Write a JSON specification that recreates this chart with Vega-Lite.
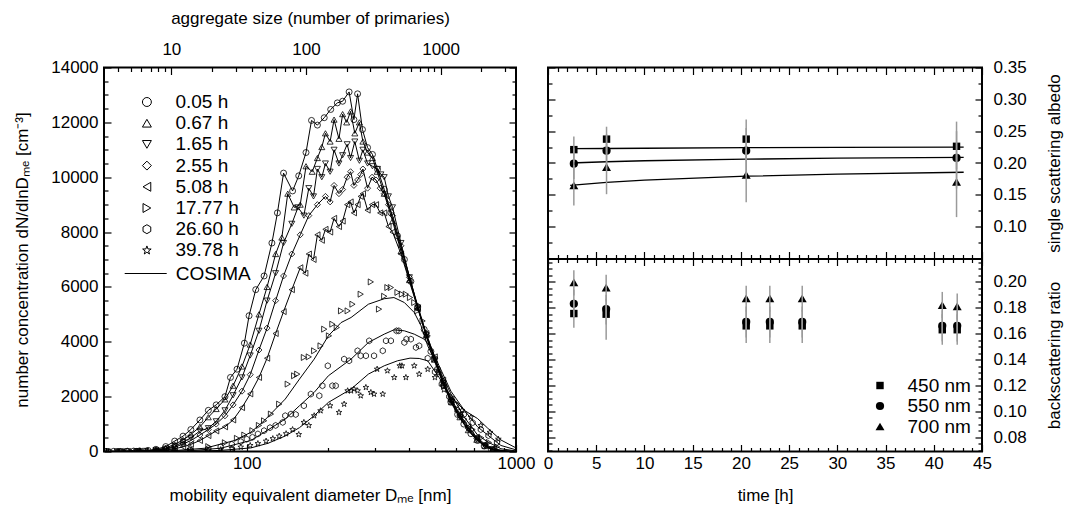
{
"$schema": "https://vega.github.io/schema/vega-lite/v6.json",
"background": "white",
"padding": {"left": 12, "top": 8.5, "right": 0, "bottom": 0},
"bounds": "flush",
"spacing": 32,
"config": {
  "font": "Liberation Sans",
  "view": {"stroke": "black", "strokeWidth": 2},
  "axis": {"grid": false, "domain": false, "tickColor": "black", "tickWidth": 1.2, "labelFont": "Liberation Sans", "labelFontSize": 17, "labelColor": "black", "titleFont": "Liberation Sans", "titleFontSize": 17, "titleFontWeight": "normal", "titleColor": "black"},
  "legend": {"labelFont": "Liberation Sans", "labelFontSize": 19, "labelColor": "black", "padding": 0}
},
"datasets": {
  "prim": [{"n": 3.16}, {"n": 3630}],
  "alb": [
    {"t":2.68,"w":"450 nm","v":0.221,"lo":0.201,"hi":0.2416},
    {"t":2.68,"w":"550 nm","v":0.199,"lo":0.175,"hi":0.223},
    {"t":2.68,"w":"700 nm","v":0.165,"lo":0.1333,"hi":0.197},
    {"t":6.07,"w":"450 nm","v":0.2375,"lo":0.215,"hi":0.257},
    {"t":6.07,"w":"550 nm","v":0.2194,"lo":0.19,"hi":0.245},
    {"t":6.07,"w":"700 nm","v":0.1936,"lo":0.151,"hi":0.23},
    {"t":20.55,"w":"450 nm","v":0.2375,"lo":0.205,"hi":0.2684},
    {"t":20.55,"w":"550 nm","v":0.2194,"lo":0.18,"hi":0.255},
    {"t":20.55,"w":"700 nm","v":0.1813,"lo":0.1384,"hi":0.22},
    {"t":42.36,"w":"450 nm","v":0.2262,"lo":0.19,"hi":0.265},
    {"t":42.36,"w":"550 nm","v":0.208,"lo":0.16,"hi":0.25},
    {"t":42.36,"w":"700 nm","v":0.1704,"lo":0.115,"hi":0.215}
  ],
  "albfit": [
    {"t":2.3,"w":"450 nm","v":0.2225},{"t":6.07,"w":"450 nm","v":0.2228},{"t":10,"w":"450 nm","v":0.2232},{"t":20.55,"w":"450 nm","v":0.224},{"t":30,"w":"450 nm","v":0.2245},{"t":43.1,"w":"450 nm","v":0.225},
    {"t":2.3,"w":"550 nm","v":0.2},{"t":6.07,"w":"550 nm","v":0.202},{"t":10,"w":"550 nm","v":0.2035},{"t":20.55,"w":"550 nm","v":0.206},{"t":30,"w":"550 nm","v":0.2075},{"t":43.1,"w":"550 nm","v":0.2087},
    {"t":2.3,"w":"700 nm","v":0.165},{"t":6.07,"w":"700 nm","v":0.1696},{"t":10,"w":"700 nm","v":0.173},{"t":20.55,"w":"700 nm","v":0.1793},{"t":30,"w":"700 nm","v":0.1825},{"t":43.1,"w":"700 nm","v":0.1855}
  ],
  "bsr": [
    {"t":2.68,"w":"450 nm","v":0.1755,"lo":0.1645,"hi":0.1865},
    {"t":2.68,"w":"550 nm","v":0.183,"lo":0.172,"hi":0.194},
    {"t":2.68,"w":"700 nm","v":0.1995,"lo":0.1895,"hi":0.209},
    {"t":6.03,"w":"450 nm","v":0.175,"lo":0.1553,"hi":0.187},
    {"t":6.03,"w":"550 nm","v":0.179,"lo":0.167,"hi":0.19},
    {"t":6.03,"w":"700 nm","v":0.1956,"lo":0.185,"hi":0.2054},
    {"t":20.55,"w":"450 nm","v":0.166,"lo":0.1528,"hi":0.178},
    {"t":20.55,"w":"550 nm","v":0.169,"lo":0.157,"hi":0.181},
    {"t":20.55,"w":"700 nm","v":0.1873,"lo":0.177,"hi":0.197},
    {"t":23.0,"w":"450 nm","v":0.166,"lo":0.1528,"hi":0.178},
    {"t":23.0,"w":"550 nm","v":0.169,"lo":0.157,"hi":0.181},
    {"t":23.0,"w":"700 nm","v":0.1873,"lo":0.177,"hi":0.197},
    {"t":26.36,"w":"450 nm","v":0.166,"lo":0.1528,"hi":0.178},
    {"t":26.36,"w":"550 nm","v":0.169,"lo":0.157,"hi":0.181},
    {"t":26.36,"w":"700 nm","v":0.1873,"lo":0.177,"hi":0.197},
    {"t":40.88,"w":"450 nm","v":0.163,"lo":0.1514,"hi":0.175},
    {"t":40.88,"w":"550 nm","v":0.166,"lo":0.154,"hi":0.178},
    {"t":40.88,"w":"700 nm","v":0.182,"lo":0.172,"hi":0.1922},
    {"t":42.43,"w":"450 nm","v":0.163,"lo":0.1514,"hi":0.175},
    {"t":42.43,"w":"550 nm","v":0.166,"lo":0.154,"hi":0.178},
    {"t":42.43,"w":"700 nm","v":0.181,"lo":0.171,"hi":0.191}
  ],
  "dist": [
    {"s":"0.05 h","D":29.5,"N":0,"meas":0,"model":1},
    {"s":"0.05 h","D":30,"N":0,"meas":1,"model":1},{"s":"0.05 h","D":32,"N":5,"meas":1,"model":1},{"s":"0.05 h","D":34,"N":0,"meas":1,"model":1},{"s":"0.05 h","D":36,"N":10,"meas":1,"model":1},{"s":"0.05 h","D":38,"N":15,"meas":1,"model":1},{"s":"0.05 h","D":40,"N":20,"meas":1,"model":1},{"s":"0.05 h","D":43,"N":40,"meas":1,"model":1},{"s":"0.05 h","D":46,"N":80,"meas":1,"model":1},{"s":"0.05 h","D":50,"N":180,"meas":1,"model":1},{"s":"0.05 h","D":54,"N":380,"meas":1,"model":1},{"s":"0.05 h","D":58,"N":560,"meas":1,"model":1},{"s":"0.05 h","D":62,"N":800,"meas":1,"model":1},{"s":"0.05 h","D":67,"N":1150,"meas":1,"model":1},{"s":"0.05 h","D":72,"N":1500,"meas":1,"model":1},{"s":"0.05 h","D":77,"N":1700,"meas":1,"model":1},{"s":"0.05 h","D":83,"N":2000,"meas":1,"model":1},{"s":"0.05 h","D":87,"N":2700,"meas":1,"model":1},{"s":"0.05 h","D":92,"N":3000,"meas":1,"model":1},{"s":"0.05 h","D":98,"N":3950,"meas":1,"model":1},{"s":"0.05 h","D":102,"N":4950,"meas":1,"model":1},{"s":"0.05 h","D":108,"N":5900,"meas":1,"model":1},{"s":"0.05 h","D":116,"N":6400,"meas":1,"model":1},{"s":"0.05 h","D":124,"N":7600,"meas":1,"model":1},{"s":"0.05 h","D":130,"N":8700,"meas":1,"model":1},{"s":"0.05 h","D":137,"N":10150,"meas":1,"model":1},{"s":"0.05 h","D":148,"N":9500,"meas":1,"model":1},{"s":"0.05 h","D":156,"N":10050,"meas":1,"model":1},{"s":"0.05 h","D":166,"N":10900,"meas":1,"model":1},{"s":"0.05 h","D":174,"N":12070,"meas":1,"model":1},{"s":"0.05 h","D":183,"N":11900,"meas":1,"model":1},{"s":"0.05 h","D":194,"N":12170,"meas":1,"model":1},{"s":"0.05 h","D":205,"N":12470,"meas":1,"model":1},{"s":"0.05 h","D":217,"N":12710,"meas":1,"model":1},{"s":"0.05 h","D":227,"N":12770,"meas":1,"model":1},{"s":"0.05 h","D":240,"N":13110,"meas":1,"model":1},{"s":"0.05 h","D":250,"N":12100,"meas":1,"model":1},{"s":"0.05 h","D":258,"N":13040,"meas":1,"model":1},{"s":"0.05 h","D":269,"N":11740,"meas":1,"model":1},{"s":"0.05 h","D":281,"N":11080,"meas":1,"model":1},{"s":"0.05 h","D":293,"N":10830,"meas":1,"model":1},{"s":"0.05 h","D":306,"N":10290,"meas":1,"model":1},{"s":"0.05 h","D":324,"N":9560,"meas":1,"model":1},{"s":"0.05 h","D":343,"N":8710,"meas":1,"model":1},{"s":"0.05 h","D":363,"N":7860,"meas":1,"model":1},{"s":"0.05 h","D":385,"N":7000,"meas":1,"model":1},{"s":"0.05 h","D":407,"N":6200,"meas":1,"model":1},{"s":"0.05 h","D":431,"N":5250,"meas":1,"model":1},{"s":"0.05 h","D":456,"N":4450,"meas":1,"model":1},{"s":"0.05 h","D":483,"N":3650,"meas":1,"model":1},{"s":"0.05 h","D":511,"N":3000,"meas":1,"model":1},{"s":"0.05 h","D":540,"N":2400,"meas":1,"model":1},{"s":"0.05 h","D":573,"N":1800,"meas":1,"model":1},{"s":"0.05 h","D":607,"N":1350,"meas":1,"model":1},{"s":"0.05 h","D":640,"N":1000,"meas":1,"model":1},{"s":"0.05 h","D":680,"N":650,"meas":1,"model":1},{"s":"0.05 h","D":720,"N":400,"meas":1,"model":1},{"s":"0.05 h","D":762,"N":200,"meas":1,"model":1},{"s":"0.05 h","D":810,"N":80,"meas":1,"model":1},
    {"s":"0.05 h","D":860,"N":20,"meas":0,"model":1},{"s":"0.05 h","D":920,"N":0,"meas":0,"model":1},{"s":"0.05 h","D":1000,"N":0,"meas":0,"model":1},

    {"s":"0.67 h","D":29.5,"N":0,"meas":0,"model":1},
    {"s":"0.67 h","D":31,"N":0,"meas":1,"model":1},{"s":"0.67 h","D":33,"N":0,"meas":1,"model":1},{"s":"0.67 h","D":35,"N":5,"meas":1,"model":1},{"s":"0.67 h","D":37,"N":10,"meas":1,"model":1},{"s":"0.67 h","D":40,"N":15,"meas":1,"model":1},{"s":"0.67 h","D":43,"N":25,"meas":1,"model":1},{"s":"0.67 h","D":46,"N":60,"meas":1,"model":1},{"s":"0.67 h","D":50,"N":130,"meas":1,"model":1},{"s":"0.67 h","D":54,"N":260,"meas":1,"model":1},{"s":"0.67 h","D":58,"N":420,"meas":1,"model":1},{"s":"0.67 h","D":62,"N":620,"meas":1,"model":1},{"s":"0.67 h","D":67,"N":900,"meas":1,"model":1},{"s":"0.67 h","D":72,"N":1250,"meas":1,"model":1},{"s":"0.67 h","D":77,"N":1550,"meas":1,"model":1},{"s":"0.67 h","D":83,"N":1900,"meas":1,"model":1},{"s":"0.67 h","D":89,"N":2400,"meas":1,"model":1},{"s":"0.67 h","D":96,"N":3100,"meas":1,"model":1},{"s":"0.67 h","D":103,"N":3900,"meas":1,"model":1},{"s":"0.67 h","D":111,"N":5000,"meas":1,"model":1},{"s":"0.67 h","D":119,"N":6000,"meas":1,"model":1},{"s":"0.67 h","D":128,"N":7200,"meas":1,"model":1},{"s":"0.67 h","D":135,"N":7800,"meas":1,"model":1},{"s":"0.67 h","D":142,"N":9400,"meas":1,"model":1},{"s":"0.67 h","D":150,"N":8900,"meas":1,"model":1},{"s":"0.67 h","D":158,"N":9000,"meas":1,"model":1},{"s":"0.67 h","D":166,"N":10400,"meas":1,"model":1},{"s":"0.67 h","D":175,"N":10200,"meas":1,"model":1},{"s":"0.67 h","D":183,"N":10700,"meas":1,"model":1},{"s":"0.67 h","D":190,"N":11100,"meas":1,"model":1},{"s":"0.67 h","D":196,"N":11600,"meas":1,"model":1},{"s":"0.67 h","D":204,"N":11300,"meas":1,"model":1},{"s":"0.67 h","D":211,"N":12100,"meas":1,"model":1},{"s":"0.67 h","D":220,"N":11400,"meas":1,"model":1},{"s":"0.67 h","D":227,"N":12300,"meas":1,"model":1},{"s":"0.67 h","D":235,"N":12000,"meas":1,"model":1},{"s":"0.67 h","D":243,"N":12400,"meas":1,"model":1},{"s":"0.67 h","D":252,"N":11600,"meas":1,"model":1},{"s":"0.67 h","D":262,"N":12000,"meas":1,"model":1},{"s":"0.67 h","D":270,"N":11300,"meas":1,"model":1},{"s":"0.67 h","D":281,"N":10900,"meas":1,"model":1},{"s":"0.67 h","D":293,"N":10700,"meas":1,"model":1},{"s":"0.67 h","D":305,"N":10200,"meas":1,"model":1},{"s":"0.67 h","D":324,"N":9400,"meas":1,"model":1},{"s":"0.67 h","D":348,"N":8400,"meas":1,"model":1},{"s":"0.67 h","D":374,"N":7300,"meas":1,"model":1},{"s":"0.67 h","D":402,"N":6250,"meas":1,"model":1},{"s":"0.67 h","D":432,"N":5250,"meas":1,"model":1},{"s":"0.67 h","D":464,"N":4250,"meas":1,"model":1},{"s":"0.67 h","D":499,"N":3350,"meas":1,"model":1},{"s":"0.67 h","D":536,"N":2500,"meas":1,"model":1},{"s":"0.67 h","D":576,"N":1800,"meas":1,"model":1},{"s":"0.67 h","D":619,"N":1250,"meas":1,"model":1},{"s":"0.67 h","D":665,"N":780,"meas":1,"model":1},{"s":"0.67 h","D":715,"N":430,"meas":1,"model":1},{"s":"0.67 h","D":768,"N":200,"meas":1,"model":1},{"s":"0.67 h","D":825,"N":60,"meas":1,"model":1},
    {"s":"0.67 h","D":890,"N":15,"meas":0,"model":1},{"s":"0.67 h","D":960,"N":0,"meas":0,"model":1},{"s":"0.67 h","D":1000,"N":0,"meas":0,"model":1},

    {"s":"1.65 h","D":29.5,"N":0,"meas":0,"model":1},
    {"s":"1.65 h","D":30,"N":0,"meas":1,"model":1},{"s":"1.65 h","D":33,"N":3,"meas":1,"model":1},{"s":"1.65 h","D":36,"N":5,"meas":1,"model":1},{"s":"1.65 h","D":39,"N":8,"meas":1,"model":1},{"s":"1.65 h","D":42,"N":20,"meas":1,"model":1},{"s":"1.65 h","D":46,"N":45,"meas":1,"model":1},{"s":"1.65 h","D":50,"N":100,"meas":1,"model":1},{"s":"1.65 h","D":54,"N":200,"meas":1,"model":1},{"s":"1.65 h","D":58,"N":340,"meas":1,"model":1},{"s":"1.65 h","D":62,"N":500,"meas":1,"model":1},{"s":"1.65 h","D":67,"N":750,"meas":1,"model":1},{"s":"1.65 h","D":72,"N":850,"meas":1,"model":1},{"s":"1.65 h","D":77,"N":1100,"meas":1,"model":1},{"s":"1.65 h","D":83,"N":1500,"meas":1,"model":1},{"s":"1.65 h","D":89,"N":2050,"meas":1,"model":1},{"s":"1.65 h","D":96,"N":2700,"meas":1,"model":1},{"s":"1.65 h","D":103,"N":3500,"meas":1,"model":1},{"s":"1.65 h","D":111,"N":4400,"meas":1,"model":1},{"s":"1.65 h","D":119,"N":5500,"meas":1,"model":1},{"s":"1.65 h","D":128,"N":6500,"meas":1,"model":1},{"s":"1.65 h","D":137,"N":7600,"meas":1,"model":1},{"s":"1.65 h","D":147,"N":8300,"meas":1,"model":1},{"s":"1.65 h","D":155,"N":8900,"meas":1,"model":1},{"s":"1.65 h","D":163,"N":8600,"meas":1,"model":1},{"s":"1.65 h","D":170,"N":9600,"meas":1,"model":1},{"s":"1.65 h","D":177,"N":9300,"meas":1,"model":1},{"s":"1.65 h","D":183,"N":10300,"meas":1,"model":1},{"s":"1.65 h","D":190,"N":10000,"meas":1,"model":1},{"s":"1.65 h","D":196,"N":10500,"meas":1,"model":1},{"s":"1.65 h","D":204,"N":10200,"meas":1,"model":1},{"s":"1.65 h","D":211,"N":11000,"meas":1,"model":1},{"s":"1.65 h","D":220,"N":10500,"meas":1,"model":1},{"s":"1.65 h","D":227,"N":10800,"meas":1,"model":1},{"s":"1.65 h","D":236,"N":11200,"meas":1,"model":1},{"s":"1.65 h","D":243,"N":10700,"meas":1,"model":1},{"s":"1.65 h","D":252,"N":11300,"meas":1,"model":1},{"s":"1.65 h","D":262,"N":10600,"meas":1,"model":1},{"s":"1.65 h","D":270,"N":11000,"meas":1,"model":1},{"s":"1.65 h","D":281,"N":10500,"meas":1,"model":1},{"s":"1.65 h","D":293,"N":10400,"meas":1,"model":1},{"s":"1.65 h","D":306,"N":10300,"meas":1,"model":1},{"s":"1.65 h","D":315,"N":10100,"meas":1,"model":1},{"s":"1.65 h","D":324,"N":10000,"meas":1,"model":1},{"s":"1.65 h","D":336,"N":9300,"meas":1,"model":1},{"s":"1.65 h","D":348,"N":8900,"meas":1,"model":1},{"s":"1.65 h","D":374,"N":7600,"meas":1,"model":1},{"s":"1.65 h","D":402,"N":6350,"meas":1,"model":1},{"s":"1.65 h","D":432,"N":5250,"meas":1,"model":1},{"s":"1.65 h","D":464,"N":4250,"meas":1,"model":1},{"s":"1.65 h","D":499,"N":3350,"meas":1,"model":1},{"s":"1.65 h","D":536,"N":2500,"meas":1,"model":1},{"s":"1.65 h","D":576,"N":1800,"meas":1,"model":1},{"s":"1.65 h","D":619,"N":1250,"meas":1,"model":1},{"s":"1.65 h","D":665,"N":800,"meas":1,"model":1},{"s":"1.65 h","D":715,"N":450,"meas":1,"model":1},{"s":"1.65 h","D":768,"N":210,"meas":1,"model":1},{"s":"1.65 h","D":825,"N":70,"meas":1,"model":1},
    {"s":"1.65 h","D":900,"N":20,"meas":0,"model":1},{"s":"1.65 h","D":980,"N":0,"meas":0,"model":1},{"s":"1.65 h","D":1000,"N":0,"meas":0,"model":1},

    {"s":"2.55 h","D":29.5,"N":0,"meas":0,"model":1},
    {"s":"2.55 h","D":31,"N":0,"meas":1,"model":1},{"s":"2.55 h","D":33,"N":2,"meas":1,"model":1},{"s":"2.55 h","D":36,"N":4,"meas":1,"model":1},{"s":"2.55 h","D":39,"N":6,"meas":1,"model":1},{"s":"2.55 h","D":42,"N":15,"meas":1,"model":1},{"s":"2.55 h","D":46,"N":35,"meas":1,"model":1},{"s":"2.55 h","D":50,"N":80,"meas":1,"model":1},{"s":"2.55 h","D":54,"N":160,"meas":1,"model":1},{"s":"2.55 h","D":58,"N":270,"meas":1,"model":1},{"s":"2.55 h","D":62,"N":400,"meas":1,"model":1},{"s":"2.55 h","D":67,"N":600,"meas":1,"model":1},{"s":"2.55 h","D":72,"N":800,"meas":1,"model":1},{"s":"2.55 h","D":77,"N":1000,"meas":1,"model":1},{"s":"2.55 h","D":83,"N":1300,"meas":1,"model":1},{"s":"2.55 h","D":89,"N":1700,"meas":1,"model":1},{"s":"2.55 h","D":96,"N":2200,"meas":1,"model":1},{"s":"2.55 h","D":103,"N":2800,"meas":1,"model":1},{"s":"2.55 h","D":111,"N":3700,"meas":1,"model":1},{"s":"2.55 h","D":119,"N":4500,"meas":1,"model":1},{"s":"2.55 h","D":128,"N":5500,"meas":1,"model":1},{"s":"2.55 h","D":137,"N":6400,"meas":1,"model":1},{"s":"2.55 h","D":147,"N":7200,"meas":1,"model":1},{"s":"2.55 h","D":158,"N":7900,"meas":1,"model":1},{"s":"2.55 h","D":170,"N":8600,"meas":1,"model":1},{"s":"2.55 h","D":183,"N":9000,"meas":1,"model":1},{"s":"2.55 h","D":196,"N":9300,"meas":1,"model":1},{"s":"2.55 h","D":204,"N":9100,"meas":1,"model":1},{"s":"2.55 h","D":211,"N":9700,"meas":1,"model":1},{"s":"2.55 h","D":220,"N":9400,"meas":1,"model":1},{"s":"2.55 h","D":227,"N":9550,"meas":1,"model":1},{"s":"2.55 h","D":236,"N":10000,"meas":1,"model":1},{"s":"2.55 h","D":243,"N":10200,"meas":1,"model":1},{"s":"2.55 h","D":250,"N":9700,"meas":1,"model":1},{"s":"2.55 h","D":258,"N":9900,"meas":1,"model":1},{"s":"2.55 h","D":265,"N":10100,"meas":1,"model":1},{"s":"2.55 h","D":270,"N":10300,"meas":1,"model":1},{"s":"2.55 h","D":281,"N":9600,"meas":1,"model":1},{"s":"2.55 h","D":292,"N":10000,"meas":1,"model":1},{"s":"2.55 h","D":302,"N":9900,"meas":1,"model":1},{"s":"2.55 h","D":313,"N":9600,"meas":1,"model":1},{"s":"2.55 h","D":324,"N":9400,"meas":1,"model":1},{"s":"2.55 h","D":336,"N":9000,"meas":1,"model":1},{"s":"2.55 h","D":348,"N":8600,"meas":1,"model":1},{"s":"2.55 h","D":374,"N":7500,"meas":1,"model":1},{"s":"2.55 h","D":402,"N":6350,"meas":1,"model":1},{"s":"2.55 h","D":432,"N":5300,"meas":1,"model":1},{"s":"2.55 h","D":464,"N":4300,"meas":1,"model":1},{"s":"2.55 h","D":499,"N":3400,"meas":1,"model":1},{"s":"2.55 h","D":536,"N":2550,"meas":1,"model":1},{"s":"2.55 h","D":576,"N":1850,"meas":1,"model":1},{"s":"2.55 h","D":619,"N":1300,"meas":1,"model":1},{"s":"2.55 h","D":665,"N":850,"meas":1,"model":1},{"s":"2.55 h","D":715,"N":480,"meas":1,"model":1},{"s":"2.55 h","D":768,"N":230,"meas":1,"model":1},{"s":"2.55 h","D":825,"N":80,"meas":1,"model":1},
    {"s":"2.55 h","D":900,"N":20,"meas":0,"model":1},{"s":"2.55 h","D":980,"N":0,"meas":0,"model":1},{"s":"2.55 h","D":1000,"N":0,"meas":0,"model":1},

    {"s":"5.08 h","D":29.5,"N":0,"meas":0,"model":1},
    {"s":"5.08 h","D":30,"N":0,"meas":1,"model":1},{"s":"5.08 h","D":34,"N":2,"meas":1,"model":1},{"s":"5.08 h","D":38,"N":5,"meas":1,"model":1},{"s":"5.08 h","D":42,"N":10,"meas":1,"model":1},{"s":"5.08 h","D":46,"N":20,"meas":1,"model":1},{"s":"5.08 h","D":50,"N":50,"meas":1,"model":1},{"s":"5.08 h","D":54,"N":100,"meas":1,"model":1},{"s":"5.08 h","D":58,"N":170,"meas":1,"model":1},{"s":"5.08 h","D":62,"N":260,"meas":1,"model":1},{"s":"5.08 h","D":67,"N":400,"meas":1,"model":1},{"s":"5.08 h","D":72,"N":580,"meas":1,"model":1},{"s":"5.08 h","D":77,"N":750,"meas":1,"model":1},{"s":"5.08 h","D":83,"N":900,"meas":1,"model":1},{"s":"5.08 h","D":89,"N":1150,"meas":1,"model":1},{"s":"5.08 h","D":96,"N":1600,"meas":1,"model":1},{"s":"5.08 h","D":103,"N":2100,"meas":1,"model":1},{"s":"5.08 h","D":111,"N":2700,"meas":1,"model":1},{"s":"5.08 h","D":119,"N":3400,"meas":1,"model":1},{"s":"5.08 h","D":128,"N":4300,"meas":1,"model":1},{"s":"5.08 h","D":137,"N":5100,"meas":1,"model":1},{"s":"5.08 h","D":147,"N":5900,"meas":1,"model":1},{"s":"5.08 h","D":158,"N":6700,"meas":1,"model":1},{"s":"5.08 h","D":165,"N":6500,"meas":1,"model":1},{"s":"5.08 h","D":170,"N":7200,"meas":1,"model":1},{"s":"5.08 h","D":177,"N":7000,"meas":1,"model":1},{"s":"5.08 h","D":183,"N":7900,"meas":1,"model":1},{"s":"5.08 h","D":190,"N":7700,"meas":1,"model":1},{"s":"5.08 h","D":196,"N":8100,"meas":1,"model":1},{"s":"5.08 h","D":204,"N":8000,"meas":1,"model":1},{"s":"5.08 h","D":211,"N":8500,"meas":1,"model":1},{"s":"5.08 h","D":220,"N":8200,"meas":1,"model":1},{"s":"5.08 h","D":227,"N":8400,"meas":1,"model":1},{"s":"5.08 h","D":236,"N":9000,"meas":1,"model":1},{"s":"5.08 h","D":243,"N":9100,"meas":1,"model":1},{"s":"5.08 h","D":250,"N":8700,"meas":1,"model":1},{"s":"5.08 h","D":258,"N":9000,"meas":1,"model":1},{"s":"5.08 h","D":265,"N":9300,"meas":1,"model":1},{"s":"5.08 h","D":270,"N":9400,"meas":1,"model":1},{"s":"5.08 h","D":281,"N":8800,"meas":1,"model":1},{"s":"5.08 h","D":292,"N":9000,"meas":1,"model":1},{"s":"5.08 h","D":302,"N":9000,"meas":1,"model":1},{"s":"5.08 h","D":313,"N":8700,"meas":1,"model":1},{"s":"5.08 h","D":324,"N":8700,"meas":1,"model":1},{"s":"5.08 h","D":336,"N":8200,"meas":1,"model":1},{"s":"5.08 h","D":348,"N":8000,"meas":1,"model":1},{"s":"5.08 h","D":374,"N":7200,"meas":1,"model":1},{"s":"5.08 h","D":402,"N":6200,"meas":1,"model":1},{"s":"5.08 h","D":432,"N":5200,"meas":1,"model":1},{"s":"5.08 h","D":464,"N":4300,"meas":1,"model":1},{"s":"5.08 h","D":499,"N":3450,"meas":1,"model":1},{"s":"5.08 h","D":536,"N":2600,"meas":1,"model":1},{"s":"5.08 h","D":576,"N":1900,"meas":1,"model":1},{"s":"5.08 h","D":619,"N":1350,"meas":1,"model":1},{"s":"5.08 h","D":665,"N":900,"meas":1,"model":1},{"s":"5.08 h","D":715,"N":520,"meas":1,"model":1},{"s":"5.08 h","D":768,"N":260,"meas":1,"model":1},{"s":"5.08 h","D":825,"N":100,"meas":1,"model":1},
    {"s":"5.08 h","D":900,"N":30,"meas":0,"model":1},{"s":"5.08 h","D":980,"N":0,"meas":0,"model":1},{"s":"5.08 h","D":1000,"N":0,"meas":0,"model":1},

    {"s":"17.77 h","D":34,"N":0,"meas":1,"model":0},{"s":"17.77 h","D":40,"N":5,"meas":1,"model":0},{"s":"17.77 h","D":46,"N":15,"meas":1,"model":0},{"s":"17.77 h","D":54,"N":40,"meas":1,"model":0},{"s":"17.77 h","D":62,"N":90,"meas":1,"model":0},{"s":"17.77 h","D":72,"N":180,"meas":1,"model":0},{"s":"17.77 h","D":83,"N":320,"meas":1,"model":0},{"s":"17.77 h","D":92,"N":480,"meas":1,"model":0},{"s":"17.77 h","D":98,"N":600,"meas":1,"model":0},{"s":"17.77 h","D":105,"N":760,"meas":1,"model":0},{"s":"17.77 h","D":111,"N":950,"meas":1,"model":0},{"s":"17.77 h","D":116,"N":1120,"meas":1,"model":0},{"s":"17.77 h","D":123,"N":1365,"meas":1,"model":0},{"s":"17.77 h","D":132,"N":1729,"meas":1,"model":0},{"s":"17.77 h","D":142,"N":2458,"meas":1,"model":0},{"s":"17.77 h","D":150,"N":2761,"meas":1,"model":0},{"s":"17.77 h","D":154,"N":2822,"meas":1,"model":0},{"s":"17.77 h","D":163,"N":3428,"meas":1,"model":0},{"s":"17.77 h","D":170,"N":3450,"meas":1,"model":0},{"s":"17.77 h","D":178,"N":3672,"meas":1,"model":0},{"s":"17.77 h","D":188,"N":3853,"meas":1,"model":0},{"s":"17.77 h","D":194,"N":4460,"meas":1,"model":0},{"s":"17.77 h","D":202,"N":4218,"meas":1,"model":0},{"s":"17.77 h","D":208,"N":4642,"meas":1,"model":0},{"s":"17.77 h","D":216,"N":4520,"meas":1,"model":0},{"s":"17.77 h","D":224,"N":5127,"meas":1,"model":0},{"s":"17.77 h","D":237,"N":5127,"meas":1,"model":0},{"s":"17.77 h","D":247,"N":5370,"meas":1,"model":0},{"s":"17.77 h","D":265,"N":5735,"meas":1,"model":0},{"s":"17.77 h","D":289,"N":6183,"meas":1,"model":0},{"s":"17.77 h","D":310,"N":5190,"meas":1,"model":0},{"s":"17.77 h","D":324,"N":5660,"meas":1,"model":0},{"s":"17.77 h","D":333,"N":5978,"meas":1,"model":0},{"s":"17.77 h","D":343,"N":5978,"meas":1,"model":0},{"s":"17.77 h","D":363,"N":5800,"meas":1,"model":0},{"s":"17.77 h","D":377,"N":5735,"meas":1,"model":0},{"s":"17.77 h","D":390,"N":5735,"meas":1,"model":0},{"s":"17.77 h","D":404,"N":5613,"meas":1,"model":0},{"s":"17.77 h","D":419,"N":5431,"meas":1,"model":0},{"s":"17.77 h","D":430,"N":5127,"meas":1,"model":0},{"s":"17.77 h","D":450,"N":4760,"meas":1,"model":0},{"s":"17.77 h","D":470,"N":4218,"meas":1,"model":0},{"s":"17.77 h","D":497,"N":3368,"meas":1,"model":0},{"s":"17.77 h","D":518,"N":2880,"meas":1,"model":0},{"s":"17.77 h","D":541,"N":2400,"meas":1,"model":0},{"s":"17.77 h","D":573,"N":1912,"meas":1,"model":0},{"s":"17.77 h","D":606,"N":1550,"meas":1,"model":0},{"s":"17.77 h","D":643,"N":1180,"meas":1,"model":0},{"s":"17.77 h","D":690,"N":800,"meas":1,"model":0},{"s":"17.77 h","D":743,"N":500,"meas":1,"model":0},{"s":"17.77 h","D":793,"N":330,"meas":1,"model":0},{"s":"17.77 h","D":850,"N":170,"meas":1,"model":0},
    {"s":"17.77 h","D":29.5,"N":0,"meas":0,"model":1},{"s":"17.77 h","D":50,"N":10,"meas":0,"model":1},{"s":"17.77 h","D":70,"N":120,"meas":0,"model":1},{"s":"17.77 h","D":90,"N":400,"meas":0,"model":1},{"s":"17.77 h","D":103.5,"N":698,"meas":0,"model":1},{"s":"17.77 h","D":116,"N":1120,"meas":0,"model":1},{"s":"17.77 h","D":139,"N":1912,"meas":0,"model":1},{"s":"17.77 h","D":157,"N":2640,"meas":0,"model":1},{"s":"17.77 h","D":178,"N":3368,"meas":0,"model":1},{"s":"17.77 h","D":201,"N":4218,"meas":0,"model":1},{"s":"17.77 h","D":224,"N":4700,"meas":0,"model":1},{"s":"17.77 h","D":244,"N":4885,"meas":0,"model":1},{"s":"17.77 h","D":283,"N":5370,"meas":0,"model":1},{"s":"17.77 h","D":324,"N":5570,"meas":0,"model":1},{"s":"17.77 h","D":352,"N":5613,"meas":0,"model":1},{"s":"17.77 h","D":385,"N":5431,"meas":0,"model":1},{"s":"17.77 h","D":419,"N":5067,"meas":0,"model":1},{"s":"17.77 h","D":444,"N":4582,"meas":0,"model":1},{"s":"17.77 h","D":470,"N":3853,"meas":0,"model":1},{"s":"17.77 h","D":518,"N":3004,"meas":0,"model":1},{"s":"17.77 h","D":573,"N":2100,"meas":0,"model":1},{"s":"17.77 h","D":643,"N":1250,"meas":0,"model":1},{"s":"17.77 h","D":720,"N":600,"meas":0,"model":1},{"s":"17.77 h","D":785,"N":350,"meas":0,"model":1},{"s":"17.77 h","D":879,"N":100,"meas":0,"model":1},{"s":"17.77 h","D":1000,"N":20,"meas":0,"model":1},

    {"s":"26.60 h","D":34,"N":0,"meas":1,"model":0},{"s":"26.60 h","D":40,"N":3,"meas":1,"model":0},{"s":"26.60 h","D":46,"N":8,"meas":1,"model":0},{"s":"26.60 h","D":54,"N":20,"meas":1,"model":0},{"s":"26.60 h","D":62,"N":50,"meas":1,"model":0},{"s":"26.60 h","D":72,"N":110,"meas":1,"model":0},{"s":"26.60 h","D":80,"N":170,"meas":1,"model":0},{"s":"26.60 h","D":88,"N":260,"meas":1,"model":0},{"s":"26.60 h","D":95,"N":360,"meas":1,"model":0},{"s":"26.60 h","D":100,"N":450,"meas":1,"model":0},{"s":"26.60 h","D":105,"N":520,"meas":1,"model":0},{"s":"26.60 h","D":110,"N":640,"meas":1,"model":0},{"s":"26.60 h","D":116,"N":760,"meas":1,"model":0},{"s":"26.60 h","D":122,"N":870,"meas":1,"model":0},{"s":"26.60 h","D":128,"N":950,"meas":1,"model":0},{"s":"26.60 h","D":136,"N":1062,"meas":1,"model":0},{"s":"26.60 h","D":139,"N":1305,"meas":1,"model":0},{"s":"26.60 h","D":146,"N":1365,"meas":1,"model":0},{"s":"26.60 h","D":152,"N":1350,"meas":1,"model":0},{"s":"26.60 h","D":163,"N":1669,"meas":1,"model":0},{"s":"26.60 h","D":173,"N":2094,"meas":1,"model":0},{"s":"26.60 h","D":186,"N":2033,"meas":1,"model":0},{"s":"26.60 h","D":191,"N":2397,"meas":1,"model":0},{"s":"26.60 h","D":200,"N":3125,"meas":1,"model":0},{"s":"26.60 h","D":208,"N":2397,"meas":1,"model":0},{"s":"26.60 h","D":214,"N":2397,"meas":1,"model":0},{"s":"26.60 h","D":230,"N":3368,"meas":1,"model":0},{"s":"26.60 h","D":240,"N":3307,"meas":1,"model":0},{"s":"26.60 h","D":258,"N":3672,"meas":1,"model":0},{"s":"26.60 h","D":265,"N":3490,"meas":1,"model":0},{"s":"26.60 h","D":277,"N":3490,"meas":1,"model":0},{"s":"26.60 h","D":285,"N":4036,"meas":1,"model":0},{"s":"26.60 h","D":297,"N":3490,"meas":1,"model":0},{"s":"26.60 h","D":320,"N":3672,"meas":1,"model":0},{"s":"26.60 h","D":329,"N":4036,"meas":1,"model":0},{"s":"26.60 h","D":343,"N":4036,"meas":1,"model":0},{"s":"26.60 h","D":360,"N":4400,"meas":1,"model":0},{"s":"26.60 h","D":367,"N":4400,"meas":1,"model":0},{"s":"26.60 h","D":385,"N":3975,"meas":1,"model":0},{"s":"26.60 h","D":392,"N":4096,"meas":1,"model":0},{"s":"26.60 h","D":407,"N":4096,"meas":1,"model":0},{"s":"26.60 h","D":425,"N":3793,"meas":1,"model":0},{"s":"26.60 h","D":437,"N":3853,"meas":1,"model":0},{"s":"26.60 h","D":470,"N":3400,"meas":1,"model":0},{"s":"26.60 h","D":500,"N":2900,"meas":1,"model":0},{"s":"26.60 h","D":530,"N":2450,"meas":1,"model":0},{"s":"26.60 h","D":565,"N":2000,"meas":1,"model":0},{"s":"26.60 h","D":600,"N":1700,"meas":1,"model":0},{"s":"26.60 h","D":640,"N":1350,"meas":1,"model":0},{"s":"26.60 h","D":690,"N":1050,"meas":1,"model":0},{"s":"26.60 h","D":740,"N":800,"meas":1,"model":0},{"s":"26.60 h","D":790,"N":580,"meas":1,"model":0},{"s":"26.60 h","D":850,"N":330,"meas":1,"model":0},
    {"s":"26.60 h","D":29.5,"N":0,"meas":0,"model":1},{"s":"26.60 h","D":60,"N":20,"meas":0,"model":1},{"s":"26.60 h","D":80,"N":120,"meas":0,"model":1},{"s":"26.60 h","D":103.5,"N":400,"meas":0,"model":1},{"s":"26.60 h","D":116,"N":698,"meas":0,"model":1},{"s":"26.60 h","D":139,"N":1183,"meas":0,"model":1},{"s":"26.60 h","D":157,"N":1669,"meas":0,"model":1},{"s":"26.60 h","D":178,"N":2154,"meas":0,"model":1},{"s":"26.60 h","D":201,"N":2761,"meas":0,"model":1},{"s":"26.60 h","D":244,"N":3368,"meas":0,"model":1},{"s":"26.60 h","D":283,"N":3975,"meas":0,"model":1},{"s":"26.60 h","D":324,"N":4278,"meas":0,"model":1},{"s":"26.60 h","D":352,"N":4436,"meas":0,"model":1},{"s":"26.60 h","D":385,"N":4400,"meas":0,"model":1},{"s":"26.60 h","D":419,"N":4278,"meas":0,"model":1},{"s":"26.60 h","D":456,"N":4096,"meas":0,"model":1},{"s":"26.60 h","D":483,"N":3793,"meas":0,"model":1},{"s":"26.60 h","D":518,"N":3125,"meas":0,"model":1},{"s":"26.60 h","D":573,"N":2200,"meas":0,"model":1},{"s":"26.60 h","D":643,"N":1500,"meas":0,"model":1},{"s":"26.60 h","D":720,"N":900,"meas":0,"model":1},{"s":"26.60 h","D":785,"N":600,"meas":0,"model":1},{"s":"26.60 h","D":879,"N":220,"meas":0,"model":1},{"s":"26.60 h","D":1000,"N":60,"meas":0,"model":1},

    {"s":"39.78 h","D":40,"N":0,"meas":1,"model":0},{"s":"39.78 h","D":46,"N":3,"meas":1,"model":0},{"s":"39.78 h","D":54,"N":8,"meas":1,"model":0},{"s":"39.78 h","D":62,"N":20,"meas":1,"model":0},{"s":"39.78 h","D":72,"N":45,"meas":1,"model":0},{"s":"39.78 h","D":80,"N":70,"meas":1,"model":0},{"s":"39.78 h","D":88,"N":110,"meas":1,"model":0},{"s":"39.78 h","D":95,"N":160,"meas":1,"model":0},{"s":"39.78 h","D":103,"N":220,"meas":1,"model":0},{"s":"39.78 h","D":110,"N":290,"meas":1,"model":0},{"s":"39.78 h","D":118,"N":380,"meas":1,"model":0},{"s":"39.78 h","D":125,"N":470,"meas":1,"model":0},{"s":"39.78 h","D":132,"N":560,"meas":1,"model":0},{"s":"39.78 h","D":140,"N":650,"meas":1,"model":0},{"s":"39.78 h","D":148,"N":800,"meas":1,"model":0},{"s":"39.78 h","D":156,"N":620,"meas":1,"model":0},{"s":"39.78 h","D":163,"N":1062,"meas":1,"model":0},{"s":"39.78 h","D":170,"N":950,"meas":1,"model":0},{"s":"39.78 h","D":178,"N":1305,"meas":1,"model":0},{"s":"39.78 h","D":188,"N":1487,"meas":1,"model":0},{"s":"39.78 h","D":204,"N":1669,"meas":1,"model":0},{"s":"39.78 h","D":220,"N":1426,"meas":1,"model":0},{"s":"39.78 h","D":230,"N":1729,"meas":1,"model":0},{"s":"39.78 h","D":237,"N":2215,"meas":1,"model":0},{"s":"39.78 h","D":244,"N":2215,"meas":1,"model":0},{"s":"39.78 h","D":250,"N":2276,"meas":1,"model":0},{"s":"39.78 h","D":258,"N":2215,"meas":1,"model":0},{"s":"39.78 h","D":265,"N":2033,"meas":1,"model":0},{"s":"39.78 h","D":277,"N":2337,"meas":1,"model":0},{"s":"39.78 h","D":289,"N":2154,"meas":1,"model":0},{"s":"39.78 h","D":297,"N":2094,"meas":1,"model":0},{"s":"39.78 h","D":305,"N":3004,"meas":1,"model":0},{"s":"39.78 h","D":320,"N":2094,"meas":1,"model":0},{"s":"39.78 h","D":333,"N":2944,"meas":1,"model":0},{"s":"39.78 h","D":353,"N":2700,"meas":1,"model":0},{"s":"39.78 h","D":370,"N":3125,"meas":1,"model":0},{"s":"39.78 h","D":377,"N":3125,"meas":1,"model":0},{"s":"39.78 h","D":390,"N":2700,"meas":1,"model":0},{"s":"39.78 h","D":419,"N":3125,"meas":1,"model":0},{"s":"39.78 h","D":437,"N":2822,"meas":1,"model":0},{"s":"39.78 h","D":470,"N":3000,"meas":1,"model":0},{"s":"39.78 h","D":500,"N":2700,"meas":1,"model":0},{"s":"39.78 h","D":540,"N":2250,"meas":1,"model":0},{"s":"39.78 h","D":580,"N":1850,"meas":1,"model":0},{"s":"39.78 h","D":630,"N":1500,"meas":1,"model":0},{"s":"39.78 h","D":680,"N":1250,"meas":1,"model":0},{"s":"39.78 h","D":740,"N":950,"meas":1,"model":0},{"s":"39.78 h","D":800,"N":700,"meas":1,"model":0},{"s":"39.78 h","D":860,"N":450,"meas":1,"model":0},
    {"s":"39.78 h","D":29.5,"N":0,"meas":0,"model":1},{"s":"39.78 h","D":60,"N":5,"meas":0,"model":1},{"s":"39.78 h","D":80,"N":40,"meas":0,"model":1},{"s":"39.78 h","D":103.5,"N":130,"meas":0,"model":1},{"s":"39.78 h","D":120,"N":300,"meas":0,"model":1},{"s":"39.78 h","D":139,"N":566,"meas":0,"model":1},{"s":"39.78 h","D":157,"N":870,"meas":0,"model":1},{"s":"39.78 h","D":178,"N":1305,"meas":0,"model":1},{"s":"39.78 h","D":201,"N":1790,"meas":0,"model":1},{"s":"39.78 h","D":244,"N":2276,"meas":0,"model":1},{"s":"39.78 h","D":283,"N":2822,"meas":0,"model":1},{"s":"39.78 h","D":324,"N":3125,"meas":0,"model":1},{"s":"39.78 h","D":363,"N":3307,"meas":0,"model":1},{"s":"39.78 h","D":404,"N":3404,"meas":0,"model":1},{"s":"39.78 h","D":437,"N":3392,"meas":0,"model":1},{"s":"39.78 h","D":470,"N":3307,"meas":0,"model":1},{"s":"39.78 h","D":518,"N":2700,"meas":0,"model":1},{"s":"39.78 h","D":573,"N":2000,"meas":0,"model":1},{"s":"39.78 h","D":643,"N":1500,"meas":0,"model":1},{"s":"39.78 h","D":720,"N":1200,"meas":0,"model":1},{"s":"39.78 h","D":785,"N":850,"meas":0,"model":1},{"s":"39.78 h","D":879,"N":420,"meas":0,"model":1},{"s":"39.78 h","D":1000,"N":130,"meas":0,"model":1}
  ]
},
"hconcat": [
  {
    "width": 412,
    "height": 384,
    "layer": [
      {
        "data": {"name": "dist"},
        "transform": [{"filter": "datum.model == 1"}],
        "mark": {"type": "line", "strokeWidth": 1, "clip": true},
        "encoding": {
          "x": {"field": "D", "type": "quantitative", "scale": {"type": "log", "domain": [29.5, 1000], "nice": false},
                "axis": {"orient": "bottom", "values": [100, 1000], "format": "d", "tickSize": -7, "labelPadding": 10.5, "labelFlush": false, "title": "mobility equivalent diameter Dₘₑ  [nm]", "titlePadding": 16}},
          "y": {"field": "N", "type": "quantitative", "scale": {"domain": [0, 14000], "nice": false},
                "axis": {"orient": "left", "values": [0, 2000, 4000, 6000, 8000, 10000, 12000, 14000], "format": "d", "tickSize": -7, "labelPadding": 13, "title": "number concentration dN/dlnDₘₑ [cm⁻³]", "titlePadding": 19}},
          "detail": {"field": "s", "type": "nominal"},
          "color": {"datum": "COSIMA", "type": "nominal", "scale": {"domain": ["COSIMA"], "range": ["black"]},
                    "legend": {"orient": "none", "legendX": 19.7, "legendY": 184, "title": null, "symbolType": "stroke", "symbolSize": 1764, "symbolStrokeWidth": 1.2, "labelOffset": 8, "labelFontSize": 19}}
        }
      },
      {
        "data": {"name": "dist"},
        "transform": [{"filter": "datum.meas == 1"}],
        "mark": {"type": "point", "filled": false, "color": "black", "strokeWidth": 0.8, "size": 36, "opacity": 1, "clip": true},
        "encoding": {
          "x": {"field": "D", "type": "quantitative", "scale": {"type": "log", "domain": [29.5, 1000], "nice": false},
                "axis": {"orient": "bottom", "values": [30, 40, 50, 60, 70, 80, 90, 200, 300, 400, 500, 600, 700, 800, 900], "tickSize": -4, "labels": false, "title": null}},
          "y": {"field": "N", "type": "quantitative", "scale": {"domain": [0, 14000], "nice": false},
                "axis": {"orient": "left", "values": [500,1000,1500,2500,3000,3500,4500,5000,5500,6500,7000,7500,8500,9000,9500,10500,11000,11500,12500,13000,13500], "tickSize": -4, "labels": false, "title": null}},
          "shape": {"field": "s", "type": "nominal",
                    "scale": {"domain": ["0.05 h", "0.67 h", "1.65 h", "2.55 h", "5.08 h", "17.77 h", "26.60 h", "39.78 h"],
                              "range": ["circle", "triangle-up", "triangle-down", "diamond", "triangle-left", "triangle-right", "M0,-1L0.866,-0.5L0.866,0.5L0,1L-0.866,0.5L-0.866,-0.5Z", "M0,-1L0.235,-0.324L0.951,-0.309L0.38,0.124L0.588,0.809L0,0.4L-0.588,0.809L-0.38,0.124L-0.951,-0.309L-0.235,-0.324Z"]},
                    "legend": {"orient": "none", "legendX": 33.4, "legendY": 25, "title": null, "symbolSize": 80, "symbolStrokeWidth": 1, "symbolStrokeColor": "black", "symbolFillColor": "transparent", "labelOffset": 19, "rowPadding": 1.2, "labelFontSize": 19}}
        }
      },
      {
        "data": {"name": "dist"},
        "transform": [{"filter": "datum.meas == 1"}],
        "mark": {"type": "point", "opacity": 0},
        "encoding": {
          "x": {"field": "D", "type": "quantitative", "scale": {"type": "log", "domain": [29.5, 1000], "nice": false}, "axis": null},
          "y": {"field": "N", "type": "quantitative", "scale": {"domain": [0, 14000], "nice": false},
                "axis": {"orient": "right", "values": [0, 2000, 4000, 6000, 8000, 10000, 12000, 14000], "tickSize": -7, "labels": false, "title": null}}
        }
      },
      {
        "data": {"name": "dist"},
        "transform": [{"filter": "datum.meas == 1"}],
        "mark": {"type": "point", "opacity": 0},
        "encoding": {
          "x": {"field": "D", "type": "quantitative", "scale": {"type": "log", "domain": [29.5, 1000], "nice": false}, "axis": null},
          "y": {"field": "N", "type": "quantitative", "scale": {"domain": [0, 14000], "nice": false},
                "axis": {"orient": "right", "values": [500,1000,1500,2500,3000,3500,4500,5000,5500,6500,7000,7500,8500,9000,9500,10500,11000,11500,12500,13000,13500], "tickSize": -4, "labels": false, "title": null}}
        }
      },
      {
        "data": {"name": "prim"},
        "mark": {"type": "point", "opacity": 0},
        "encoding": {
          "x": {"field": "n", "type": "quantitative", "scale": {"type": "log", "domain": [3.16, 3630], "nice": false},
                "axis": {"orient": "top", "values": [10, 100, 1000], "format": "d", "tickSize": -7, "labelPadding": 16, "title": "aggregate size (number of primaries)", "titlePadding": 13}}
        }
      },
      {
        "data": {"name": "prim"},
        "mark": {"type": "point", "opacity": 0},
        "encoding": {
          "x": {"field": "n", "type": "quantitative", "scale": {"type": "log", "domain": [3.16, 3630], "nice": false},
                "axis": {"orient": "top", "values": [4, 5, 6, 7, 8, 9, 20, 30, 40, 50, 60, 70, 80, 90, 200, 300, 400, 500, 600, 700, 800, 900, 2000, 3000], "tickSize": -4, "labels": false, "title": null}}
        }
      }
    ],
    "resolve": {"scale": {"x": "independent"}, "axis": {"x": "independent", "y": "independent"}}
  },
  {
    "width": 434,
    "height": 384,
    "layer": [
      {
        "data": {"name": "albfit"},
        "mark": {"type": "line", "color": "black", "strokeWidth": 1.3},
        "encoding": {
          "x": {"field": "t", "type": "quantitative", "scale": {"domain": [0, 45], "nice": false, "zero": false},
                "axis": {"orient": "top", "values": [0, 5, 10, 15, 20, 25, 30, 35, 40, 45], "tickSize": -7, "labels": false, "title": null}},
          "y": {"field": "v", "type": "quantitative", "scale": {"domain": [0.05, 0.35], "range": [191, 0], "nice": false, "zero": false},
                "axis": {"orient": "right", "values": [0.1, 0.15, 0.2, 0.25, 0.3, 0.35], "format": ".2f", "tickSize": -7, "labelPadding": 18, "title": "single scattering albedo", "titleAngle": 270, "titleBaseline": "top", "titlePadding": 20}},
          "detail": {"field": "w", "type": "nominal"}
        }
      },
      {
        "data": {"name": "alb"},
        "mark": {"type": "point", "filled": true, "color": "black", "opacity": 1},
        "encoding": {
          "x": {"field": "t", "type": "quantitative", "scale": {"domain": [0, 45], "nice": false, "zero": false},
                "axis": {"orient": "top", "values": [1,2,3,4,6,7,8,9,11,12,13,14,16,17,18,19,21,22,23,24,26,27,28,29,31,32,33,34,36,37,38,39,41,42,43,44], "tickSize": -4, "labels": false, "title": null}},
          "y": {"field": "v", "type": "quantitative", "scale": {"domain": [0.05, 0.35], "range": [191, 0], "nice": false, "zero": false},
                "axis": {"orient": "right", "values": [0.075, 0.125, 0.175, 0.225, 0.275, 0.325], "tickSize": -4, "labels": false, "title": null}},
          "shape": {"field": "w", "type": "nominal", "scale": {"domain": ["450 nm", "550 nm", "700 nm"], "range": ["square", "circle", "triangle-up"]},
                    "legend": {"orient": "none", "legendX": 322.5, "legendY": 308.5, "title": null, "symbolFillColor": "black", "symbolStrokeColor": "black", "labelOffset": 18, "rowPadding": 0.5, "labelFontSize": 19}},
          "size": {"field": "w", "type": "nominal", "scale": {"domain": ["450 nm", "550 nm", "700 nm"], "range": [55, 80, 120]},
                    "legend": {"orient": "none", "legendX": 322.5, "legendY": 308.5, "title": null, "symbolFillColor": "black", "symbolStrokeColor": "black", "labelOffset": 18, "rowPadding": 0.5, "labelFontSize": 19}}
        }
      },
      {
        "data": {"name": "alb"},
        "mark": {"type": "rule", "color": "#9a9a9a", "strokeWidth": 1.5},
        "encoding": {
          "x": {"field": "t", "type": "quantitative", "scale": {"domain": [0, 45], "nice": false, "zero": false},
                "axis": {"orient": "bottom", "offset": -193, "domain": true, "domainColor": "black", "domainWidth": 2, "values": [0, 5, 10, 15, 20, 25, 30, 35, 40, 45], "tickSize": -7, "labels": false, "title": null}},
          "y": {"field": "lo", "type": "quantitative", "scale": {"domain": [0.05, 0.35], "range": [191, 0], "nice": false, "zero": false},
                "axis": {"orient": "left", "values": [0.1, 0.15, 0.2, 0.25, 0.3, 0.35], "tickSize": -7, "labels": false, "title": null}},
          "y2": {"field": "hi"}
        }
      },
      {
        "data": {"name": "alb"},
        "mark": {"type": "point", "opacity": 0},
        "encoding": {
          "x": {"field": "t", "type": "quantitative", "scale": {"domain": [0, 45], "nice": false, "zero": false},
                "axis": {"orient": "bottom", "offset": -193, "values": [1,2,3,4,6,7,8,9,11,12,13,14,16,17,18,19,21,22,23,24,26,27,28,29,31,32,33,34,36,37,38,39,41,42,43,44], "tickSize": -4, "labels": false, "title": null}},
          "y": {"field": "v", "type": "quantitative", "scale": {"domain": [0.05, 0.35], "range": [191, 0], "nice": false, "zero": false},
                "axis": {"orient": "left", "values": [0.075, 0.125, 0.175, 0.225, 0.275, 0.325], "tickSize": -4, "labels": false, "title": null}}
        }
      },
      {
        "data": {"name": "bsr"},
        "mark": {"type": "point", "filled": true, "color": "black", "opacity": 1},
        "encoding": {
          "x": {"field": "t", "type": "quantitative", "scale": {"domain": [0, 45], "nice": false, "zero": false},
                "axis": {"orient": "bottom", "values": [0, 5, 10, 15, 20, 25, 30, 35, 40, 45], "format": "d", "tickSize": -7, "labelPadding": 10.5, "labelFlush": false, "title": "time [h]", "titlePadding": 16}},
          "y": {"field": "v", "type": "quantitative", "scale": {"domain": [0.069, 0.218], "range": [384, 191], "nice": false, "zero": false},
                "axis": {"orient": "right", "values": [0.08, 0.1, 0.12, 0.14, 0.16, 0.18, 0.2], "format": ".2f", "tickSize": -7, "labelPadding": 18, "title": "backscattering ratio", "titleAngle": 270, "titleBaseline": "top", "titlePadding": 20}},
          "shape": {"field": "w", "type": "nominal", "scale": {"domain": ["450 nm", "550 nm", "700 nm"], "range": ["square", "circle", "triangle-up"]},
                    "legend": {"orient": "none", "legendX": 322.5, "legendY": 308.5, "title": null, "symbolFillColor": "black", "symbolStrokeColor": "black", "labelOffset": 18, "rowPadding": 0.5, "labelFontSize": 19}},
          "size": {"field": "w", "type": "nominal", "scale": {"domain": ["450 nm", "550 nm", "700 nm"], "range": [55, 80, 120]},
                    "legend": {"orient": "none", "legendX": 322.5, "legendY": 308.5, "title": null, "symbolFillColor": "black", "symbolStrokeColor": "black", "labelOffset": 18, "rowPadding": 0.5, "labelFontSize": 19}}
        }
      },
      {
        "data": {"name": "bsr"},
        "mark": {"type": "rule", "color": "#9a9a9a", "strokeWidth": 1.5},
        "encoding": {
          "x": {"field": "t", "type": "quantitative", "scale": {"domain": [0, 45], "nice": false, "zero": false},
                "axis": {"orient": "bottom", "values": [1,2,3,4,6,7,8,9,11,12,13,14,16,17,18,19,21,22,23,24,26,27,28,29,31,32,33,34,36,37,38,39,41,42,43,44], "tickSize": -4, "labels": false, "title": null}},
          "y": {"field": "lo", "type": "quantitative", "scale": {"domain": [0.069, 0.218], "range": [384, 191], "nice": false, "zero": false},
                "axis": {"orient": "right", "values": [0.07, 0.075, 0.085, 0.09, 0.095, 0.105, 0.11, 0.115, 0.125, 0.13, 0.135, 0.145, 0.15, 0.155, 0.165, 0.17, 0.175, 0.185, 0.19, 0.195, 0.205, 0.21, 0.215], "tickSize": -4, "labels": false, "title": null}},
          "y2": {"field": "hi"}
        }
      },
      {
        "data": {"name": "bsr"},
        "mark": {"type": "point", "opacity": 0},
        "encoding": {
          "x": {"field": "t", "type": "quantitative", "scale": {"domain": [0, 45], "nice": false, "zero": false},
                "axis": {"orient": "top", "offset": -191, "values": [0, 5, 10, 15, 20, 25, 30, 35, 40, 45], "tickSize": -7, "labels": false, "title": null}},
          "y": {"field": "v", "type": "quantitative", "scale": {"domain": [0.069, 0.218], "range": [384, 191], "nice": false, "zero": false},
                "axis": {"orient": "left", "values": [0.08, 0.1, 0.12, 0.14, 0.16, 0.18, 0.2], "tickSize": -7, "labels": false, "title": null}}
        }
      },
      {
        "data": {"name": "bsr"},
        "mark": {"type": "point", "opacity": 0},
        "encoding": {
          "x": {"field": "t", "type": "quantitative", "scale": {"domain": [0, 45], "nice": false, "zero": false},
                "axis": {"orient": "top", "offset": -191, "values": [1,2,3,4,6,7,8,9,11,12,13,14,16,17,18,19,21,22,23,24,26,27,28,29,31,32,33,34,36,37,38,39,41,42,43,44], "tickSize": -4, "labels": false, "title": null}},
          "y": {"field": "v", "type": "quantitative", "scale": {"domain": [0.069, 0.218], "range": [384, 191], "nice": false, "zero": false},
                "axis": {"orient": "left", "values": [0.07, 0.075, 0.085, 0.09, 0.095, 0.105, 0.11, 0.115, 0.125, 0.13, 0.135, 0.145, 0.15, 0.155, 0.165, 0.17, 0.175, 0.185, 0.19, 0.195, 0.205, 0.21, 0.215], "tickSize": -4, "labels": false, "title": null}}
        }
      }
    ],
    "resolve": {"scale": {"y": "independent"}, "axis": {"x": "independent", "y": "independent"}}
  }
],
"resolve": {"scale": {"x": "independent", "y": "independent", "shape": "independent", "size": "independent", "color": "independent"}, "legend": {"shape": "independent", "size": "independent", "color": "independent"}}
}
